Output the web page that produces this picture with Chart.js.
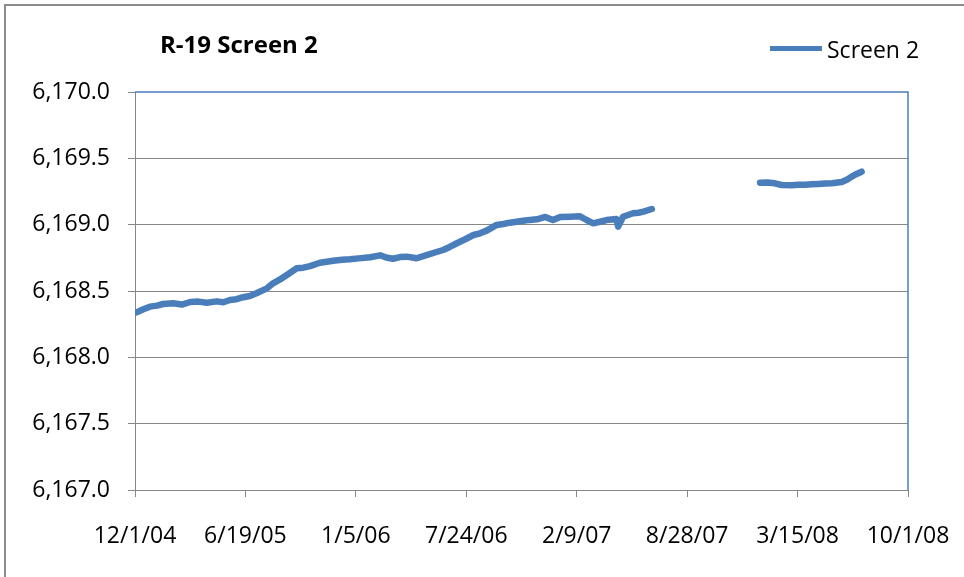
<!DOCTYPE html>
<html>
<head>
<meta charset="utf-8">
<title>R-19 Screen 2</title>
<script src="https://cdn.jsdelivr.net/npm/chart.js@4.4.1/dist/chart.umd.min.js"></script>
<style>
  html, body { margin: 0; padding: 0; background: #fff; overflow: hidden; }
  #wrap { position: relative; width: 964px; height: 577px; overflow: hidden; }
  #frame { position: absolute; left: 4px; top: 4px; width: 990px; height: 610px;
           border: 2px solid #8c8c8c; box-sizing: border-box; }
  #chart { position: absolute; left: 0; top: 0; }
  #title { position: absolute; left: 160px; top: 29px; font: bold 24px "Open Sans", sans-serif;
           color: #000; white-space: nowrap; line-height: 30px; letter-spacing: 0px; }
  #legend { position: absolute; left: 770px; top: 34px; height: 30px; white-space: nowrap;
            font: 23px "Open Sans", sans-serif; color: #000; line-height: 30px; }
  #legend .swatch { display: inline-block; width: 52px; height: 5px; background: #4a7ebb;
                    vertical-align: middle; margin-right: 5px; position: relative; top: -3px; }
</style>
</head>
<body>
<div id="wrap">
  <div id="frame"></div>
  <canvas id="chart" width="964" height="577"></canvas>
  <div id="title">R-19 Screen 2</div>
  <div id="legend"><span class="swatch"></span>Screen 2</div>
</div>
<script>
// Water level record, screen 2 of well R-19.
// x values are days after 12/1/04; y values are water-level elevations.
const seriesName = 'Screen 2';

// First logging period (12/04 through mid 2007)
const days1 = [3, 15, 27, 40, 51, 69, 85, 100, 115, 130, 148, 160, 172, 184, 196, 208, 220, 239,
               250, 262, 275, 293, 305, 317, 335, 347, 359, 375, 389, 405, 426, 444, 455, 467,
               480, 492, 510, 528, 546, 558, 570, 583, 598, 613, 625, 637, 655, 667, 679, 691,
               703, 715, 728, 743, 757, 770, 788, 806, 818, 830, 842, 854, 872, 875, 884, 902,
               912, 921, 936];
const levels1 = [6168.339, 6168.362, 6168.382, 6168.390, 6168.402, 6168.407, 6168.398, 6168.417,
                 6168.420, 6168.412, 6168.422, 6168.415, 6168.432, 6168.438, 6168.453, 6168.462,
                 6168.483, 6168.520, 6168.558, 6168.585, 6168.621, 6168.671, 6168.676, 6168.688,
                 6168.713, 6168.720, 6168.728, 6168.735, 6168.739, 6168.746, 6168.754, 6168.769,
                 6168.752, 6168.743, 6168.756, 6168.759, 6168.747, 6168.771, 6168.794, 6168.809,
                 6168.832, 6168.860, 6168.890, 6168.922, 6168.935, 6168.955, 6168.998, 6169.005,
                 6169.015, 6169.022, 6169.030, 6169.036, 6169.040, 6169.058, 6169.035, 6169.058,
                 6169.060, 6169.063, 6169.035, 6169.010, 6169.022, 6169.035, 6169.043, 6168.985,
                 6169.060, 6169.086, 6169.090, 6169.098, 6169.118];

// Second logging period (early 2008 onward)
const days2 = [1132, 1145, 1159, 1171, 1189, 1201, 1213, 1226, 1238, 1250, 1262, 1280, 1290,
               1298, 1307, 1316];
const levels2 = [6169.316, 6169.318, 6169.312, 6169.299, 6169.297, 6169.300, 6169.301, 6169.304,
                 6169.307, 6169.310, 6169.312, 6169.322, 6169.340, 6169.362, 6169.382, 6169.399];

// Date axis: one tick every 200 days
const tickDays = [0, 200, 400, 600, 800, 1000, 1200, 1400];
const tickLabels = ['12/1/04', '6/19/05', '1/5/06', '7/24/06', '2/9/07', '8/28/07', '3/15/08', '10/1/08'];

const yTicks = [6167.0, 6167.5, 6168.0, 6168.5, 6169.0, 6169.5, 6170.0];

// Build the point list, with a null point separating the two periods
const points = [];
days1.forEach((d, i) => points.push({ x: d, y: levels1[i] }));
points.push({ x: (days1[days1.length - 1] + days2[0]) / 2, y: null });
days2.forEach((d, i) => points.push({ x: d, y: levels2[i] }));

const AXIS_GRAY = '#878787';
const FONT = { family: '"Open Sans", sans-serif', size: 23 };

// Blue frame on the top and right edges of the plot area
const plotFrame = {
  id: 'plotFrame',
  afterDraw(chart) {
    const { ctx, chartArea: a } = chart;
    ctx.save();
    ctx.strokeStyle = '#4a7ebb';
    ctx.lineWidth = 1.5;
    ctx.beginPath();
    ctx.moveTo(a.left, a.top);
    ctx.lineTo(a.right, a.top);
    ctx.lineTo(a.right, a.bottom);
    ctx.stroke();
    ctx.restore();
  }
};

new Chart(document.getElementById('chart'), {
  type: 'line',
  data: {
    datasets: [{
      label: seriesName,
      data: points,
      borderColor: '#4a7ebb',
      backgroundColor: '#4a7ebb',
      borderWidth: 6.5,
      borderCapStyle: 'round',
      borderJoinStyle: 'round',
      pointRadius: 0,
      tension: 0,
      spanGaps: false
    }]
  },
  options: {
    responsive: false,
    animation: false,
    events: [],
    layout: { padding: { left: 0, top: 92, right: 56, bottom: 0 } },
    plugins: { legend: { display: false }, title: { display: false }, tooltip: { enabled: false } },
    scales: {
      x: {
        type: 'linear',
        min: tickDays[0],
        max: tickDays[tickDays.length - 1],
        afterBuildTicks(scale) { scale.ticks = tickDays.map(v => ({ value: v })); },
        afterFit(scale) { scale.height = 87; scale.paddingLeft = 0; scale.paddingRight = 0; },
        grid: { drawOnChartArea: false, drawTicks: true, tickLength: 7, color: AXIS_GRAY, tickColor: AXIS_GRAY },
        border: { color: AXIS_GRAY, width: 1 },
        ticks: {
          color: '#000',
          font: FONT,
          padding: 26,
          maxRotation: 0,
          autoSkip: false,
          callback: (v) => tickLabels[tickDays.indexOf(v)]
        }
      },
      y: {
        min: yTicks[0],
        max: yTicks[yTicks.length - 1],
        afterBuildTicks(scale) { scale.ticks = yTicks.map(v => ({ value: v })); },
        afterFit(scale) { scale.width = 135; scale.paddingTop = 0; scale.paddingBottom = 0; },
        grid: {
          color: (c) => (c.tick && c.tick.value === yTicks[yTicks.length - 1]) ? 'rgba(0,0,0,0)' : AXIS_GRAY,
          tickColor: AXIS_GRAY,
          lineWidth: 1,
          drawTicks: true,
          tickLength: 7
        },
        border: { color: AXIS_GRAY, width: 1 },
        ticks: {
          color: '#000',
          font: FONT,
          padding: 18,
          autoSkip: false,
          callback: (v) => v.toLocaleString('en-US', { minimumFractionDigits: 1, maximumFractionDigits: 1 })
        }
      }
    }
  },
  plugins: [plotFrame]
});
</script>
</body>
</html>
